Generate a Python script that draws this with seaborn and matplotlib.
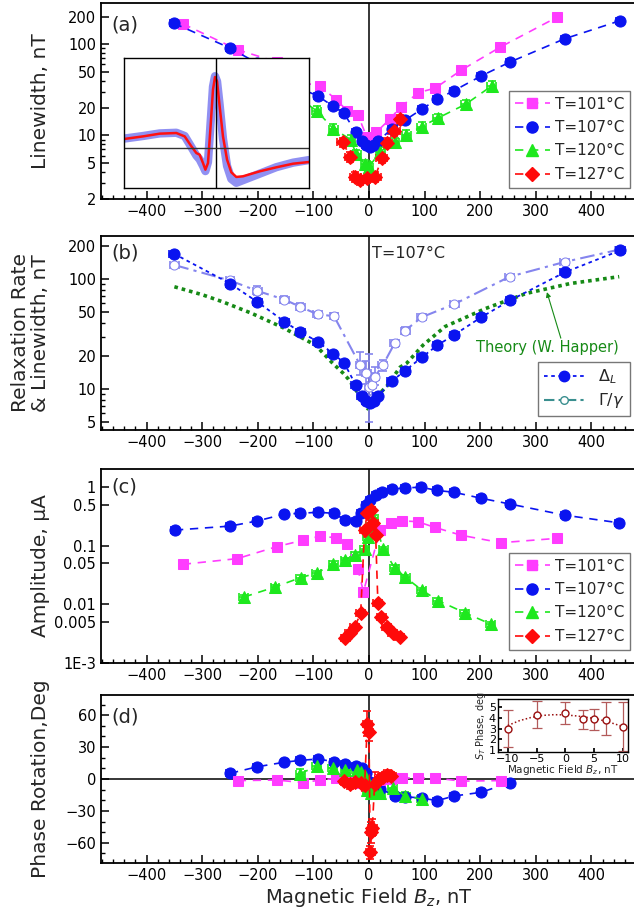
import numpy as np
import pandas as pd
import matplotlib
matplotlib.use("Agg")
import matplotlib.pyplot as plt
from matplotlib.lines import Line2D
from matplotlib.ticker import FixedLocator, NullFormatter, MultipleLocator, LogLocator
import seaborn as sns

# ---------------- data ----------------
# (a) linewidth vs field
a101_B = [-335, -236, -166, -118, -88, -59, -39, -20, -4, 13, 38, 57, 89, 119, 166, 236, 338]
a101_v = [168, 87, 64, 37.6, 35, 24.6, 18.6, 16.8, 9.6, 10.8, 15.2, 20.5, 29.5, 33, 52, 93, 198]
a107_B = [-351, -250, -201, -152, -124, -92, -65, -45, -24, -13, -5, 2, 9, 16, 41, 65, 95, 123, 153, 202, 254, 352, 452]
a107_v = [170, 91, 62, 41, 33, 27, 21, 17.4, 10.9, 8.6, 7.8, 7.5, 7.8, 8.6, 11.8, 14.7, 19.4, 25, 31, 45, 64, 115, 182]
a120_B = [-225, -169, -124, -94, -64, -33, -23, -7, 0, 20, 46, 67, 95, 124, 174, 221]
a120_v = [56, 39, 25, 18.6, 11.8, 9, 6.2, 4.8, 4.5, 6.6, 8.4, 10.1, 12.5, 15.5, 22, 35]
a127_B = [-47, -34, -25, -16, -4, 11, 23, 32, 45, 56]
a127_v = [8.4, 5.8, 3.5, 3.2, 3.4, 3.5, 5.6, 8.3, 11.2, 15]

# inset of (a): resonance signal (normalised units)
sig_x = [0.0, 0.103, 0.193, 0.283, 0.328, 0.364, 0.391, 0.409, 0.427, 0.44, 0.454, 0.468, 0.481,
         0.492, 0.503, 0.517, 0.535, 0.557, 0.58, 0.607, 0.643, 0.733, 0.823, 0.914, 1.0]
sig_fit = [0.377, 0.397, 0.418, 0.423, 0.397, 0.321, 0.269, 0.256, 0.192, 0.141, 0.192, 0.474, 0.756,
           0.854, 0.821, 0.628, 0.397, 0.218, 0.121, 0.085, 0.09, 0.128, 0.159, 0.187, 0.2]
sig_data = [0.38, 0.40, 0.42, 0.425, 0.40, 0.315, 0.25, 0.22, 0.17, 0.13, 0.20, 0.50, 0.78,
            0.86, 0.82, 0.64, 0.38, 0.17, 0.07, 0.04, 0.06, 0.11, 0.16, 0.195, 0.215]

# (b) relaxation rate and linewidth at 107 C
dl_B = a107_B
dl_v = a107_v
gam_B = [-350, -250, -201, -152, -124, -92, -63, -16, -5, 0, 5, 10, 25, 46, 65, 95, 153, 253, 352, 450]
gam_v = [134, 97, 78, 65, 56, 47.6, 46, 16.5, 14, 10.5, 10.9, 12.8, 16.5, 26, 34, 45, 59, 105, 143, 185]
gam_elo = [4, 4, 7, 5, 4, 3, 3, 3, 3, 5.5, 2, 2, 2, 2, 2.5, 3, 3, 4, 5, 6]
gam_ehi = [4, 4, 9, 5, 4, 3, 3, 5, 4, 10.5, 3, 3, 2, 2, 2.5, 3, 3, 4, 5, 6]
theory_B = [-350, -300, -263, -212, -154, -96, -67, -47, -37, -20, -2, 20, 32, 56, 68, 97, 137, 210, 283, 362, 450]
theory_v = [85, 72, 62, 49, 36, 25, 17.5, 14, 12.3, 9.2, 6.6, 9.2, 10.6, 15.8, 17.2, 25, 37, 54, 74, 91, 105]

# (c) amplitude
c101_B = [-335, -237, -166, -118, -88, -59, -40, -20, -10, 20, 39, 59, 88, 118, 166, 237, 338]
c101_v = [0.048, 0.06, 0.096, 0.124, 0.145, 0.136, 0.105, 0.04, 0.0164, 0.184, 0.245, 0.265, 0.255, 0.205, 0.15, 0.112, 0.133]
c107_B = [-349, -250, -201, -152, -124, -92, -63, -43, -24, -14, -5, 2, 13, 24, 42, 64, 93, 123, 153, 202, 254, 352, 449]
c107_v = [0.184, 0.215, 0.263, 0.345, 0.355, 0.37, 0.355, 0.27, 0.263, 0.36, 0.49, 0.6, 0.73, 0.83, 0.92, 0.96, 0.99, 0.87, 0.81, 0.64, 0.51, 0.33, 0.245]
c120_B = [-225, -169, -123, -94, -64, -43, -25, -8, -2, 3, 8, 26, 46, 65, 95, 124, 172, 219]
c120_v = [0.0133, 0.0197, 0.0285, 0.034, 0.049, 0.057, 0.07, 0.088, 0.14, 0.22, 0.3, 0.086, 0.042, 0.029, 0.0175, 0.0116, 0.0072, 0.0046]
c127_B = [-43, -35, -26, -15, -8, -3, 3, 8, 12, 16, 22, 32, 43, 55]
c127_v = [0.0027, 0.0033, 0.0041, 0.007, 0.185, 0.36, 0.40, 0.24, 0.15, 0.0104, 0.006, 0.0041, 0.0033, 0.0028]

# (d) phase rotation
d101_B = [-236, -166, -118, -88, -59, -39, -20, -10, 20, 39, 59, 88, 118, 166, 237]
d101_v = [-1.5, -1, -3.4, -1, 0.6, -2, -4, -3, -1, 0, 1, 1, 1, -2, -1.5]
d107_B = [-250, -201, -152, -124, -92, -63, -43, -24, -13, -5, 2, 13, 20, 46, 65, 95, 123, 153, 202, 253]
d107_v = [5.3, 11.5, 15.8, 17.5, 18.8, 16.3, 14.5, 12.2, 10, 6, -3, -7.5, -9, -15.9, -16.6, -18, -20.3, -16, -12.5, -3.4]
d120_B = [-124, -94, -65, -43, -22, -15, -8, -3, 3, 10, 20, 43, 65, 95]
d120_v = [5, 12, 10, 8.5, 8, 7, 3, -10, -13, -12, -13, -8, -16, -19]
d127_B = [-45, -35, -25, -15, -8, -3, 0, 2, 4, 6, 10, 18, 25, 32, 40]
d127_v = [-2, -5, -3, -4, -6, 52, 44, -69, -50, -46, -5, 0, 2, 4, 3]
d127_err = [4, 4, 4, 4, 5, 12, 8, 6, 10, 8, 12, 4, 4, 4, 4]

# inset of (d): S_T phase near zero field
st_B = [-10, -5, 0, 3, 5, 7, 10]
st_v = [3.0, 4.3, 4.45, 3.9, 3.9, 3.85, 3.2]
st_elo = [1.7, 1.2, 1.05, 0.9, 1.0, 1.45, 2.3]
st_ehi = [1.8, 1.3, 1.05, 0.9, 1.0, 1.65, 2.3]
st_fit_B = [-10, -8, -6, -4, -2, 0, 2, 4, 6, 8, 10]
st_fit_v = [3.3, 3.75, 4.05, 4.25, 4.32, 4.3, 4.2, 4.05, 3.85, 3.55, 3.2]

temps = ["T=101°C", "T=107°C", "T=120°C", "T=127°C"]

# ---------------- style ----------------
sns.set_theme(style="ticks")
plt.rcParams["font.family"] = ["DejaVu Sans"]
plt.rcParams["mathtext.fontset"] = "dejavusans"

MAG, BLU, GRN, RED = "#ff3cff", "#0a14f0", "#1ee81e", "#ff0a0a"
LIGHT = "#8585ee"
TEAL = "#3a8f8f"
THEO = "#168a16"
DASH = (0, (5, 4))

fig = plt.figure(figsize=(6.34, 9.23), dpi=100)
W = 634.0
H = 923.0


def add_ax(top, bottom, left=101, right=637):
    return fig.add_axes([left / W, 1 - bottom / H, (right - left) / W, (bottom - top) / H])


def style_ax(ax):
    for s in ax.spines.values():
        s.set_linewidth(1.3)
        s.set_color("black")
    ax.tick_params(which="both", direction="in", top=False, right=False, labelsize=10.5, colors="black")
    ax.tick_params(which="major", length=6, width=1.1)
    ax.tick_params(which="minor", length=3, width=1.0)
    ax.set_xlim(-482, 482)
    ax.xaxis.set_major_locator(MultipleLocator(100))
    ax.xaxis.set_minor_locator(MultipleLocator(20))
    ax.axvline(0, color="black", lw=1.1, zorder=1)


def series(ax, x, y, color, marker, ms, ls, xerr=None, yerr=None, mfc=None, lw=1.2, z=3):
    if xerr is not None or yerr is not None:
        ax.errorbar(x, y, xerr=xerr, yerr=yerr, fmt="none", ecolor=color, elinewidth=1.2,
                    capsize=3, capthick=1.2, zorder=z - 1)
    df = pd.DataFrame({"B": x, "v": y})
    sns.lineplot(data=df, x="B", y="v", ax=ax, color=color, marker=marker, markersize=ms,
                 markeredgecolor=color, markerfacecolor=mfc if mfc else color,
                 linestyle=ls, linewidth=lw, estimator=None, sort=False, legend=False, zorder=z)


def log_ticks(ax, ticks, labels):
    ax.set_yscale("log")
    ax.yaxis.set_major_locator(FixedLocator(ticks))
    ax.set_yticklabels(labels)
    ax.yaxis.set_minor_locator(LogLocator(base=10, subs=np.arange(2, 10)))
    ax.yaxis.set_minor_formatter(NullFormatter())


def temp_legend(ax, bbox):
    handles = [
        Line2D([], [], color=MAG, marker="s", ms=7.5, ls=DASH, lw=1.2),
        Line2D([], [], color=BLU, marker="o", ms=8, ls=DASH, lw=1.2),
        Line2D([], [], color=GRN, marker="^", ms=8.5, ls=DASH, lw=1.2),
        Line2D([], [], color=RED, marker="D", ms=7.5, ls=DASH, lw=1.2),
    ]
    leg = ax.legend(handles, temps, loc="lower right", bbox_to_anchor=bbox, fontsize=11,
                    frameon=True, fancybox=False, edgecolor="#555555", handlelength=2.3,
                    labelspacing=0.55, borderpad=0.4, handletextpad=0.3, borderaxespad=0)
    leg.get_frame().set_linewidth(1.0)
    leg.set_zorder(10)


# ---------------- (a) ----------------
axa = add_ax(3, 199)
style_ax(axa)
log_ticks(axa, [2, 5, 10, 20, 50, 100, 200], ["2", "5", "10", "20", "50", "100", "200"])
axa.set_ylim(2, 284)
series(axa, a101_B, a101_v, MAG, "s", 7.5, DASH, xerr=7, yerr=[0.06 * v for v in a101_v])
series(axa, a107_B, a107_v, BLU, "o", 8, DASH, xerr=7, yerr=[0.06 * v for v in a107_v])
series(axa, a120_B, a120_v, GRN, "^", 8.5, DASH, xerr=8, yerr=[0.12 * v for v in a120_v])
series(axa, a127_B, a127_v, RED, "D", 7.5, DASH, xerr=10, yerr=[0.12 * v for v in a127_v])
axa.set_ylabel("Linewidth, nT", fontsize=14.5, labelpad=4)
axa.text(0.02, 0.89, "(a)", transform=axa.transAxes, fontsize=14, va="center", ha="left")
temp_legend(axa, ((630 - 101) / 536, (199 - 188) / 196))
axa.set_xlabel("")

# inset with the signal
axi = fig.add_axes([124 / W, 1 - 188 / H, 185 / W, 130 / H])
axi.set_facecolor("white")
sns.lineplot(x=sig_x, y=sig_data, ax=axi, color="#8a8af2", lw=6, alpha=0.95, estimator=None, sort=False, legend=False)
sns.lineplot(x=sig_x, y=sig_fit, ax=axi, color="#ff1010", lw=1.8, estimator=None, sort=False, legend=False)
axi.axvline(0.495, color="black", lw=1.0)
axi.axhline(0.305, color="#333333", lw=1.0)
axi.set_xlim(0, 1)
axi.set_ylim(0, 1)
axi.set_xticks([])
axi.set_yticks([])
for s in axi.spines.values():
    s.set_linewidth(1.0)
    s.set_color("black")

# ---------------- (b) ----------------
axb = add_ax(236, 430)
style_ax(axb)
log_ticks(axb, [5, 10, 20, 50, 100, 200], ["5", "10", "20", "50", "100", "200"])
axb.set_ylim(4.24, 246)
series(axb, theory_B, theory_v, THEO, None, 0, (0, (1, 1.1)), lw=2.6, z=2)
series(axb, gam_B, gam_v, LIGHT, "o", 6.5, (0, (7, 2.5, 1.5, 2.5)), xerr=8,
       yerr=[gam_elo, gam_ehi], mfc="white", lw=1.5, z=3)
series(axb, dl_B, dl_v, BLU, "o", 8, (0, (2, 2)), xerr=8, yerr=[0.06 * v for v in dl_v], lw=1.3, z=4)
axb.set_ylabel("Relaxation Rate\n& Linewidth, nT", fontsize=14.5, labelpad=4, linespacing=1.05)
axb.text(0.02, 0.912, "(b)", transform=axb.transAxes, fontsize=14, va="center", ha="left")
axb.text(0.506, 0.912, "T=107°C", transform=axb.transAxes, fontsize=11.5, va="center", ha="left")
axb.text(320, 24, "Theory (W. Happer)", color=THEO, fontsize=10.5, ha="center", va="center")
axb.annotate("", xy=(320, 76), xytext=(345, 29),
             arrowprops=dict(arrowstyle="-|>", color=THEO, lw=0.8, mutation_scale=7, shrinkA=0, shrinkB=0))
hb = [Line2D([], [], color=BLU, marker="o", ms=7.5, ls=(0, (2, 2)), lw=1.3),
      Line2D([], [], color=TEAL, marker="o", ms=5.5, mfc="white", ls=(0, (5, 2, 1.5, 2)), lw=1.5)]
legb = axb.legend(hb, [r"$\mathit{\Delta}_L$", r"$\mathit{\Gamma}/\gamma$"], loc="lower right",
                  bbox_to_anchor=((630 - 101) / 536, (430 - 416) / 194), fontsize=11.5, frameon=True,
                  fancybox=False, edgecolor="#555555", handlelength=2.6, borderpad=0.35,
                  labelspacing=0.35, handletextpad=0.8, borderaxespad=0)
legb.get_frame().set_linewidth(1.0)
axb.set_xlabel("")

# ---------------- (c) ----------------
axc = add_ax(469, 663)
style_ax(axc)
log_ticks(axc, [1e-3, 5e-3, 1e-2, 5e-2, 0.1, 0.5, 1], ["1E-3", "0.005", "0.01", "0.05", "0.1", "0.5", "1"])
axc.yaxis.set_minor_locator(FixedLocator([]))
axc.set_ylim(1e-3, 2.02)
series(axc, c101_B, c101_v, MAG, "s", 7.5, DASH, xerr=7, yerr=[0.06 * v for v in c101_v])
series(axc, c107_B, c107_v, BLU, "o", 8, DASH, xerr=7, yerr=[0.06 * v for v in c107_v])
series(axc, c120_B, c120_v, GRN, "^", 8.5, DASH, xerr=8, yerr=[0.1 * v for v in c120_v])
series(axc, c127_B, c127_v, RED, "D", 7.5, DASH, xerr=8, yerr=[0.1 * v for v in c127_v])
axc.set_ylabel("Amplitude, μA", fontsize=14.5, labelpad=4)
axc.text(0.02, 0.907, "(c)", transform=axc.transAxes, fontsize=14, va="center", ha="left")
temp_legend(axc, ((630 - 101) / 536, (663 - 650) / 194))
axc.set_xlabel("")

# ---------------- (d) ----------------
axd = add_ax(695, 863)
style_ax(axd)
axd.set_ylim(-79, 79)
axd.yaxis.set_major_locator(FixedLocator([-60, -30, 0, 30, 60]))
axd.yaxis.set_minor_locator(MultipleLocator(10))
axd.axhline(0, color="black", lw=1.1, zorder=1)
series(axd, d107_B, d107_v, BLU, "o", 8, DASH, xerr=7, yerr=2)
series(axd, d101_B, d101_v, MAG, "s", 7.5, DASH, xerr=7, yerr=2)
series(axd, d120_B, d120_v, GRN, "^", 8.5, DASH, xerr=8, yerr=4)
series(axd, d127_B, d127_v, RED, "D", 7.5, DASH, xerr=8, yerr=d127_err)
axd.set_ylabel("Phase Rotation,Deg", fontsize=14.5, labelpad=4)
axd.set_xlabel(r"Magnetic Field $B_z$, nT", fontsize=14, labelpad=2)
axd.text(0.02, 0.869, "(d)", transform=axd.transAxes, fontsize=14, va="center", ha="left")

# inset with S_T phase
axs = fig.add_axes([498 / W, 1 - 752 / H, 130 / W, 53 / H])
axs.set_facecolor("white")
axs.errorbar(st_B, st_v, yerr=[st_elo, st_ehi], fmt="none", ecolor="#b35a5a", elinewidth=0.9,
             capsize=3.5, capthick=0.9)
sns.lineplot(x=st_fit_B, y=st_fit_v, ax=axs, color="#9a1010", lw=1.1, linestyle=(0, (1, 1.5)),
             estimator=None, sort=False, legend=False)
sns.lineplot(x=st_B, y=st_v, ax=axs, color="#9a1010", marker="o", ms=5, mfc="white", mec="#9a1010",
             mew=1.0, linestyle="none", estimator=None, sort=False, legend=False)
axs.set_xlim(-11.7, 10.9)
axs.set_ylim(0.8, 5.8)
axs.set_xticks([-10, -5, 0, 5, 10])
axs.set_yticks([1, 2, 3, 4, 5])
axs.tick_params(direction="in", labelsize=8, length=3, pad=1.5, colors="black")
for s in axs.spines.values():
    s.set_linewidth(1.0)
    s.set_color("black")
axs.set_xlabel(r"Magnetic Field $B_z$, nT", fontsize=7.5, labelpad=-1)
axs.set_ylabel(r"$S_T$ Phase, deg", fontsize=7, labelpad=0.5)

# align y labels of the four panels
for ax in (axa, axb, axc, axd):
    ax.yaxis.set_label_coords(-0.095, 0.5)

fig.savefig("out.png", dpi=100)
